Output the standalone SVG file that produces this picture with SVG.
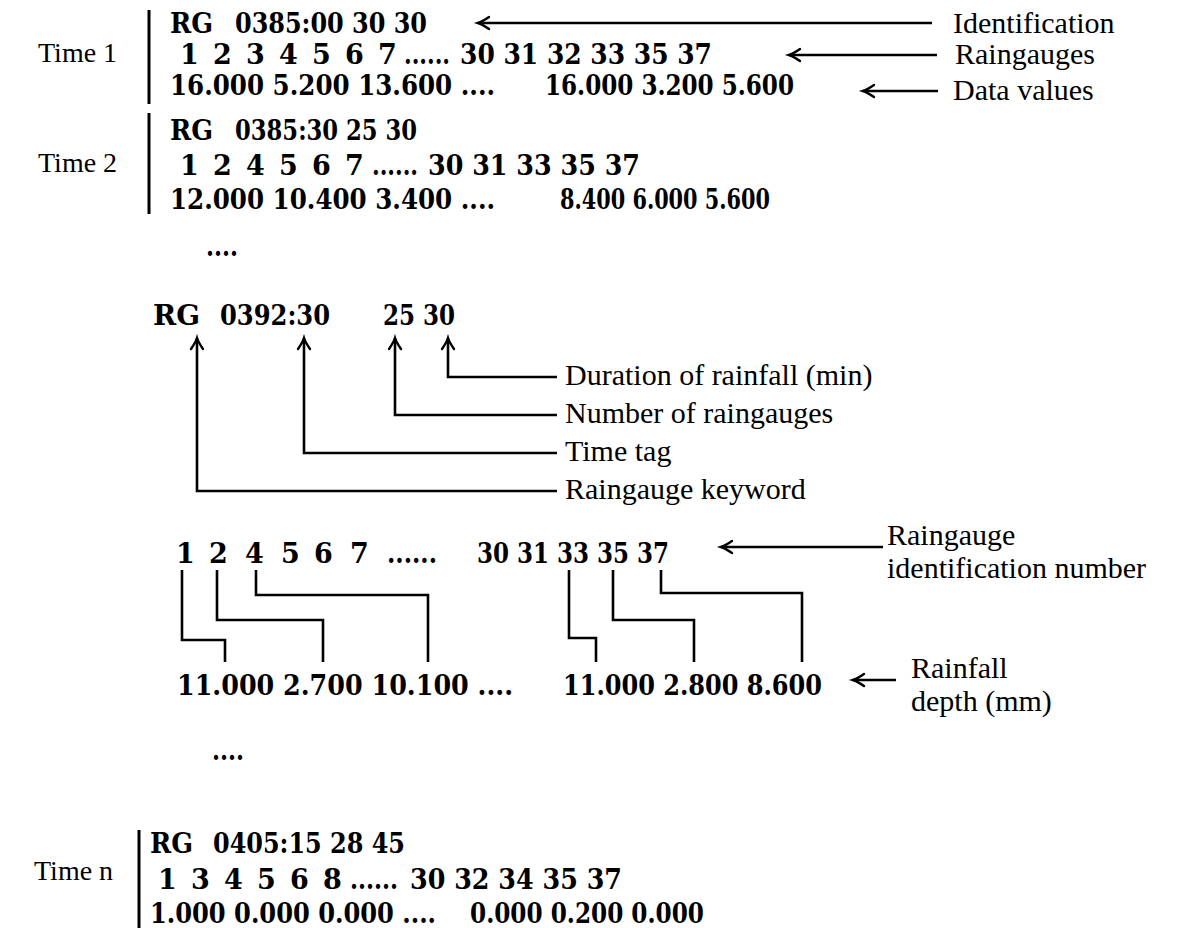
<svg xmlns="http://www.w3.org/2000/svg" width="1180" height="928" viewBox="0 0 1180 928">
  <style>
    .b { font-family: "DejaVu Serif", "Liberation Serif", serif; font-weight: bold; font-size: 27px; fill: #000; }
    .l { font-family: "Liberation Serif", "Times New Roman", serif; font-size: 30px; fill: #000; }
    .t { font-family: "Liberation Serif", "Times New Roman", serif; font-size: 28px; fill: #000; }
    .ln { fill: none; stroke: #000; stroke-width: 2.6; stroke-linejoin: miter; }
    .bar { stroke: #000; stroke-width: 3; }
  </style>
  <defs>
    <marker id="head" markerUnits="userSpaceOnUse" markerWidth="30" markerHeight="30" refX="0" refY="0" viewBox="-15 -15 30 30" orient="auto-start-reverse" overflow="visible">
      <path d="M-11,-6 Q-4,-1.2 0,0 Q-4,1.2 -11,6" fill="none" stroke="#000" stroke-width="2.4" stroke-linecap="round"/>
    </marker>
  </defs>
  <rect width="1180" height="928" fill="#fff"/>

  <!-- record at time 1 -->
  <g id="time1">
    <text class="t" x="38" y="62">Time 1</text>
    <line class="bar" x1="149" y1="10" x2="149" y2="104"/>
    <text class="b" x="170" y="33" textLength="43" lengthAdjust="spacingAndGlyphs">RG</text>
    <text class="b" x="235" y="33" textLength="192" lengthAdjust="spacingAndGlyphs">0385:00 30 30</text>
    <text class="b" x="180 213 246 279 312 345 378" y="64">1234567</text>
    <text class="b" x="404" y="64" textLength="46" lengthAdjust="spacingAndGlyphs">......</text>
    <text class="b" x="460" y="64" textLength="252" lengthAdjust="spacingAndGlyphs">30 31 32 33 35 37</text>
    <text class="b" x="170" y="95" textLength="325" lengthAdjust="spacingAndGlyphs">16.000 5.200 13.600 ....</text>
    <text class="b" x="545" y="95" textLength="249" lengthAdjust="spacingAndGlyphs">16.000 3.200 5.600</text>
  </g>

  <!-- record at time 2 -->
  <g id="time2">
    <text class="t" x="38" y="172">Time 2</text>
    <line class="bar" x1="149" y1="113" x2="149" y2="214"/>
    <text class="b" x="170" y="140" textLength="43" lengthAdjust="spacingAndGlyphs">RG</text>
    <text class="b" x="235" y="140" textLength="182" lengthAdjust="spacingAndGlyphs">0385:30 25 30</text>
    <text class="b" x="180 213 246 279 312 345" y="175">124567</text>
    <text class="b" x="372" y="175" textLength="46" lengthAdjust="spacingAndGlyphs">......</text>
    <text class="b" x="428" y="175" textLength="212" lengthAdjust="spacingAndGlyphs">30 31 33 35 37</text>
    <text class="b" x="170" y="209" textLength="325" lengthAdjust="spacingAndGlyphs">12.000 10.400 3.400 ....</text>
    <text class="b" x="560" y="209" textLength="210" lengthAdjust="spacingAndGlyphs">8.400 6.000 5.600</text>
  </g>

  <!-- field descriptions for the first record -->
  <g id="record-labels">
    <text class="l" x="953" y="33">Identification</text>
    <text class="l" x="955" y="64">Raingauges</text>
    <text class="l" x="953" y="100">Data values</text>
  </g>

  <g id="ellipsis-1">
    <text class="b" x="206" y="256" textLength="32" lengthAdjust="spacingAndGlyphs">....</text>
  </g>

  <!-- header line broken down -->
  <g id="header">
    <text class="b" x="153" y="325" textLength="47" lengthAdjust="spacingAndGlyphs">RG</text>
    <text class="b" x="220" y="325" textLength="110" lengthAdjust="spacingAndGlyphs">0392:30</text>
    <text class="b" x="383" y="325" textLength="72" lengthAdjust="spacingAndGlyphs">25 30</text>
  </g>
  <g id="header-labels">
    <text class="l" x="565" y="385">Duration of rainfall (min)</text>
    <text class="l" x="565" y="423">Number of raingauges</text>
    <text class="l" x="565" y="461">Time tag</text>
    <text class="l" x="565" y="499">Raingauge keyword</text>
  </g>

  <!-- gauge numbers and their values -->
  <g id="gauges">
    <text class="b" x="176 209 245 281 314 350" y="563">124567</text>
    <text class="b" x="387" y="563" textLength="50" lengthAdjust="spacingAndGlyphs">......</text>
    <text class="b" x="477" y="563" textLength="192" lengthAdjust="spacingAndGlyphs">30 31 33 35 37</text>
  </g>
  <g id="gauge-label">
    <text class="l" x="887" y="545">Raingauge</text>
    <text class="l" x="887" y="578">identification number</text>
  </g>
  <g id="depths">
    <text class="b" x="177" y="695" textLength="336" lengthAdjust="spacingAndGlyphs">11.000 2.700 10.100 ....</text>
    <text class="b" x="563" y="695" textLength="259" lengthAdjust="spacingAndGlyphs">11.000 2.800 8.600</text>
  </g>
  <g id="depth-label">
    <text class="l" x="911" y="678">Rainfall</text>
    <text class="l" x="911" y="711">depth (mm)</text>
  </g>

  <g id="ellipsis-2">
    <text class="b" x="212" y="760" textLength="32" lengthAdjust="spacingAndGlyphs">....</text>
  </g>

  <!-- record at time n -->
  <g id="timen">
    <text class="t" x="34" y="880">Time n</text>
    <line class="bar" x1="139" y1="830" x2="139" y2="928"/>
    <text class="b" x="150" y="853" textLength="43" lengthAdjust="spacingAndGlyphs">RG</text>
    <text class="b" x="213" y="853" textLength="192" lengthAdjust="spacingAndGlyphs">0405:15 28 45</text>
    <text class="b" x="158 191 224 257 290 323" y="889">134568</text>
    <text class="b" x="350" y="889" textLength="48" lengthAdjust="spacingAndGlyphs">......</text>
    <text class="b" x="410" y="889" textLength="212" lengthAdjust="spacingAndGlyphs">30 32 34 35 37</text>
    <text class="b" x="150" y="923" textLength="286" lengthAdjust="spacingAndGlyphs">1.000 0.000 0.000 ....</text>
    <text class="b" x="470" y="923" textLength="234" lengthAdjust="spacingAndGlyphs">0.000 0.200 0.000</text>
  </g>

  <!-- connectors -->
  <g id="connectors">
    <path class="ln" d="M478,23 H932" marker-start="url(#head)"/>
    <path class="ln" d="M789,55 H937" marker-start="url(#head)"/>
    <path class="ln" d="M863,91 H938" marker-start="url(#head)"/>

    <path class="ln" d="M448,338 V377 H557" marker-start="url(#head)"/>
    <path class="ln" d="M395,338 V415 H557" marker-start="url(#head)"/>
    <path class="ln" d="M304,338 V453 H557" marker-start="url(#head)"/>
    <path class="ln" d="M197,338 V491 H557" marker-start="url(#head)"/>

    <path class="ln" d="M721,547 H883" marker-start="url(#head)"/>

    <path class="ln" d="M182,570 V640 H225 V662"/>
    <path class="ln" d="M217,570 V620 H323 V662"/>
    <path class="ln" d="M256,570 V595 H428 V662"/>
    <path class="ln" d="M569,570 V638 H596 V662"/>
    <path class="ln" d="M613,570 V620 H694 V662"/>
    <path class="ln" d="M661,570 V593 H802 V662"/>

    <path class="ln" d="M853,680 H896" marker-start="url(#head)"/>
  </g>
</svg>
